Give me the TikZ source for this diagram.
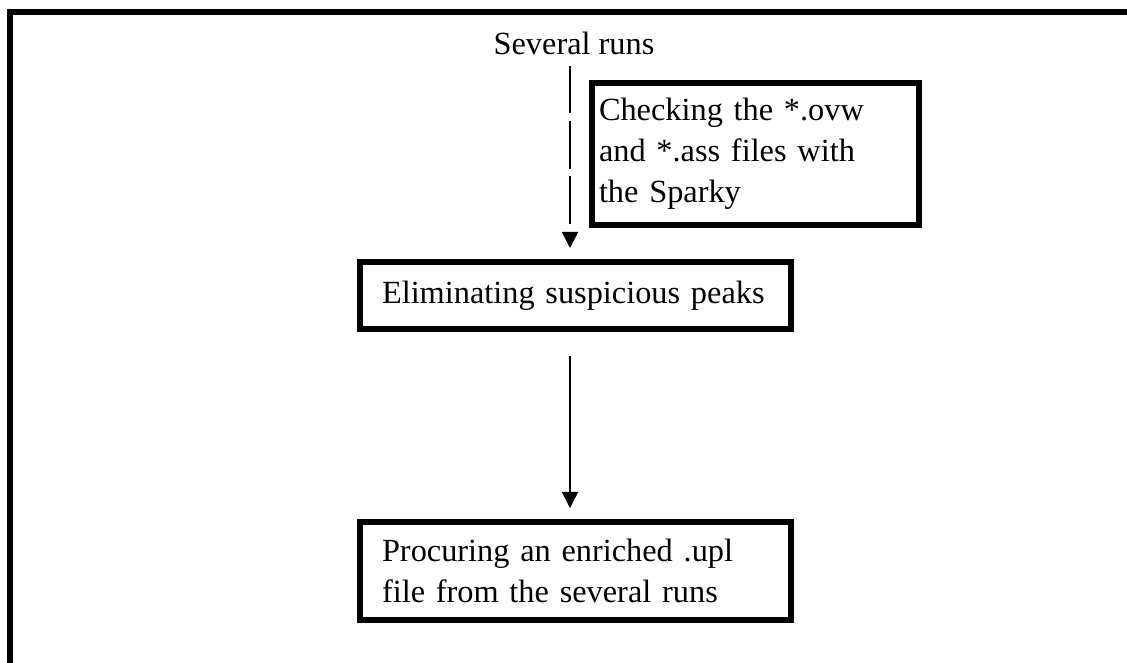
\documentclass[tikz,border=0pt]{standalone}
\usepackage{fontspec}
\setmainfont{Liberation Serif}
\usetikzlibrary{positioning,arrows.meta}

\begin{document}
\begin{tikzpicture}[%
		   box/.style={draw,line width=3.2pt,outer sep=0pt,align=left,font=\fontsize{18.4}{23.3}\selectfont},
		   plain/.style={font=\fontsize{18.4}{23.3}\selectfont,inner sep=2pt},
		   flow/.style={-{Triangle[length=3.2mm,width=3.2mm]},line width=0.9pt}]

	\useasboundingbox (0,0) rectangle (22.54,-13.26);
	% frame, only top and left edges show
	\draw[line width=3pt] (0.2,-13.26) |- (22.54,-0.24);

	\node[plain](runs) at (11.48,-0.86) {Several runs};
	\node[box,anchor=north west,inner xsep=0.14cm,text width=6.26cm,minimum height=2.84cm](check) at (11.84,-1.66)
	   {Checking the *.ovw\\ and *.ass files with\\ the Sparky};
	\node[box,anchor=north west,inner xsep=0.44cm,text width=7.74cm,minimum height=1.34cm](elim) at (7.2,-5.24)
	   {Eliminating suspicious peaks};
	\node[box,inner xsep=0.44cm,text width=7.74cm,minimum height=1.96cm,below=3.86cm of elim](proc)
	   {Procuring an enriched .upl\\ file from the several runs};

	\draw[flow,dash pattern=on 27pt off 4.5pt] ([xshift=-0.08cm,yshift=-0.15cm]runs.south) -- ([xshift=-0.08cm,yshift=0.28cm]runs.south |- elim.north);
	\draw[flow] ([xshift=-0.11cm,yshift=-0.54cm]elim.south) -- ([xshift=-0.11cm,yshift=0.28cm]proc.north);
\end{tikzpicture}
\end{document}
